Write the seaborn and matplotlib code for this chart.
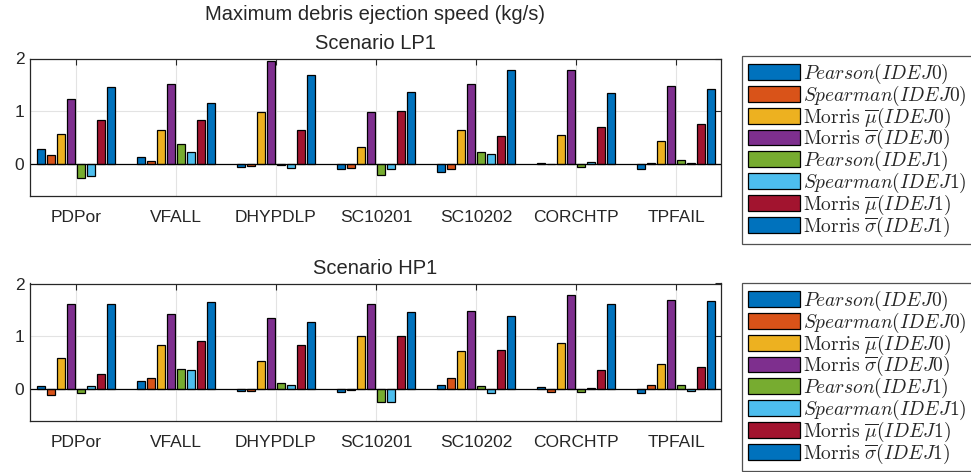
import numpy as np
import pandas as pd
import seaborn as sns
import matplotlib.pyplot as plt

variables = ['PDPor', 'VFALL', 'DHYPDLP', 'SC10201', 'SC10202', 'CORCHTP', 'TPFAIL']
measures = [r'$Pearson(IDEJ0)$', r'$Spearman(IDEJ0)$',
            r'$\mathrm{Morris}\ \overline{\mu}(IDEJ0)$', r'$\mathrm{Morris}\ \overline{\sigma}(IDEJ0)$',
            r'$Pearson(IDEJ1)$', r'$Spearman(IDEJ1)$',
            r'$\mathrm{Morris}\ \overline{\mu}(IDEJ1)$', r'$\mathrm{Morris}\ \overline{\sigma}(IDEJ1)$']
colors = ['#0072BD', '#D95319', '#EDB120', '#7E2F8E', '#77AC30', '#4DBEEE', '#A2142F', '#0072BD']

# scenario LP1, one list per measure (order of variables)
lp1_pearson0 = [0.28, 0.14, -0.05, -0.08, -0.15, 0.02, -0.09]
lp1_spearman0 = [0.18, 0.06, -0.04, -0.07, -0.08, 0.01, 0.03]
lp1_mu0 = [0.58, 0.64, 0.99, 0.32, 0.65, 0.56, 0.44]
lp1_sigma0 = [1.24, 1.51, 1.96, 0.98, 1.51, 1.78, 1.48]
lp1_pearson1 = [-0.26, 0.375, -0.01, -0.21, 0.225, -0.05, 0.09]
lp1_spearman1 = [-0.22, 0.24, -0.07, -0.09, 0.19, 0.04, 0.03]
lp1_mu1 = [0.84, 0.84, 0.64, 1.0, 0.54, 0.71, 0.76]
lp1_sigma1 = [1.46, 1.16, 1.69, 1.37, 1.78, 1.34, 1.43]

# scenario HP1
hp1_pearson0 = [0.06, 0.16, -0.04, -0.05, 0.08, 0.04, -0.08]
hp1_spearman0 = [-0.11, 0.22, -0.025, -0.01, 0.21, -0.06, 0.075]
hp1_mu0 = [0.60, 0.84, 0.53, 1.0, 0.72, 0.87, 0.47]
hp1_sigma0 = [1.61, 1.43, 1.34, 1.61, 1.48, 1.79, 1.69]
hp1_pearson1 = [-0.075, 0.38, 0.11, -0.25, 0.06, -0.05, 0.075]
hp1_spearman1 = [0.055, 0.36, 0.09, -0.25, -0.08, 0.02, -0.025]
hp1_mu1 = [0.28, 0.92, 0.84, 1.0, 0.74, 0.36, 0.43]
hp1_sigma1 = [1.62, 1.65, 1.27, 1.47, 1.38, 1.61, 1.66]

lp1 = [lp1_pearson0, lp1_spearman0, lp1_mu0, lp1_sigma0, lp1_pearson1, lp1_spearman1, lp1_mu1, lp1_sigma1]
hp1 = [hp1_pearson0, hp1_spearman0, hp1_mu0, hp1_sigma0, hp1_pearson1, hp1_spearman1, hp1_mu1, hp1_sigma1]


def to_long(series):
    rows = []
    for m, vals in zip(measures, series):
        for v, val in zip(variables, vals):
            rows.append({'variable': v, 'measure': m, 'value': val})
    return pd.DataFrame(rows)


sns.set_style('white')
plt.rcParams['font.family'] = ['Liberation Sans', 'DejaVu Sans']
plt.rcParams['mathtext.fontset'] = 'cm'

fig = plt.figure(figsize=(9.71, 4.72), dpi=100)
W, H = 971, 472
ax_top = fig.add_axes([30 / W, 1 - 196 / H, 691 / W, 137.5 / H])
ax_bot = fig.add_axes([30 / W, 1 - 421 / H, 691 / W, 137.5 / H])

for ax, series, title, leg_top in [(ax_top, lp1, 'Scenario LP1', 56),
                                   (ax_bot, hp1, 'Scenario HP1', 283)]:
    df = to_long(series)
    sns.barplot(data=df, x='variable', y='value', hue='measure', palette=colors,
                saturation=1, edgecolor='black', linewidth=0.9, width=0.8, gap=0.2, ax=ax)
    ax.set_xlim(-0.46, 6.45)
    ax.set_ylim(-0.6, 2)
    ax.set_yticks([0, 1, 2])
    ax.axhline(0, color='black', lw=0.9, zorder=1)
    ax.grid(True, color='#e3e3e3', lw=0.8)
    ax.set_axisbelow(True)
    ax.set_xlabel('')
    ax.set_ylabel('')
    ax.tick_params(direction='in', top=True, right=True, length=4, width=0.8,
                   colors='#262626', labelsize=12.5, pad=10)
    ax.tick_params(axis='y', pad=4)
    for s in ax.spines.values():
        s.set_color('#262626')
        s.set_linewidth(0.9)
    ax.set_title(title, fontsize=14.5, pad=7)
    sns.move_legend(ax, loc='upper left', bbox_to_anchor=(742 / W, 1 - leg_top / H),
                    bbox_transform=fig.transFigure, title=None, fontsize=14,
                    frameon=True, fancybox=False, edgecolor='#262626',
                    handlelength=2.7, handleheight=0.88, labelspacing=-0.12,
                    handletextpad=0.15, borderpad=0.3, borderaxespad=0)
    leg = ax.get_legend()
    leg.get_frame().set_linewidth(0.9)
    for p in leg.get_patches():
        p.set_edgecolor('black')
        p.set_linewidth(0.9)

fig.text(375 / W, 1 - 15 / H, 'Maximum debris ejection speed (kg/s)',
         ha='center', va='center', fontsize=14.5)

fig.savefig('out.png', dpi=100)
